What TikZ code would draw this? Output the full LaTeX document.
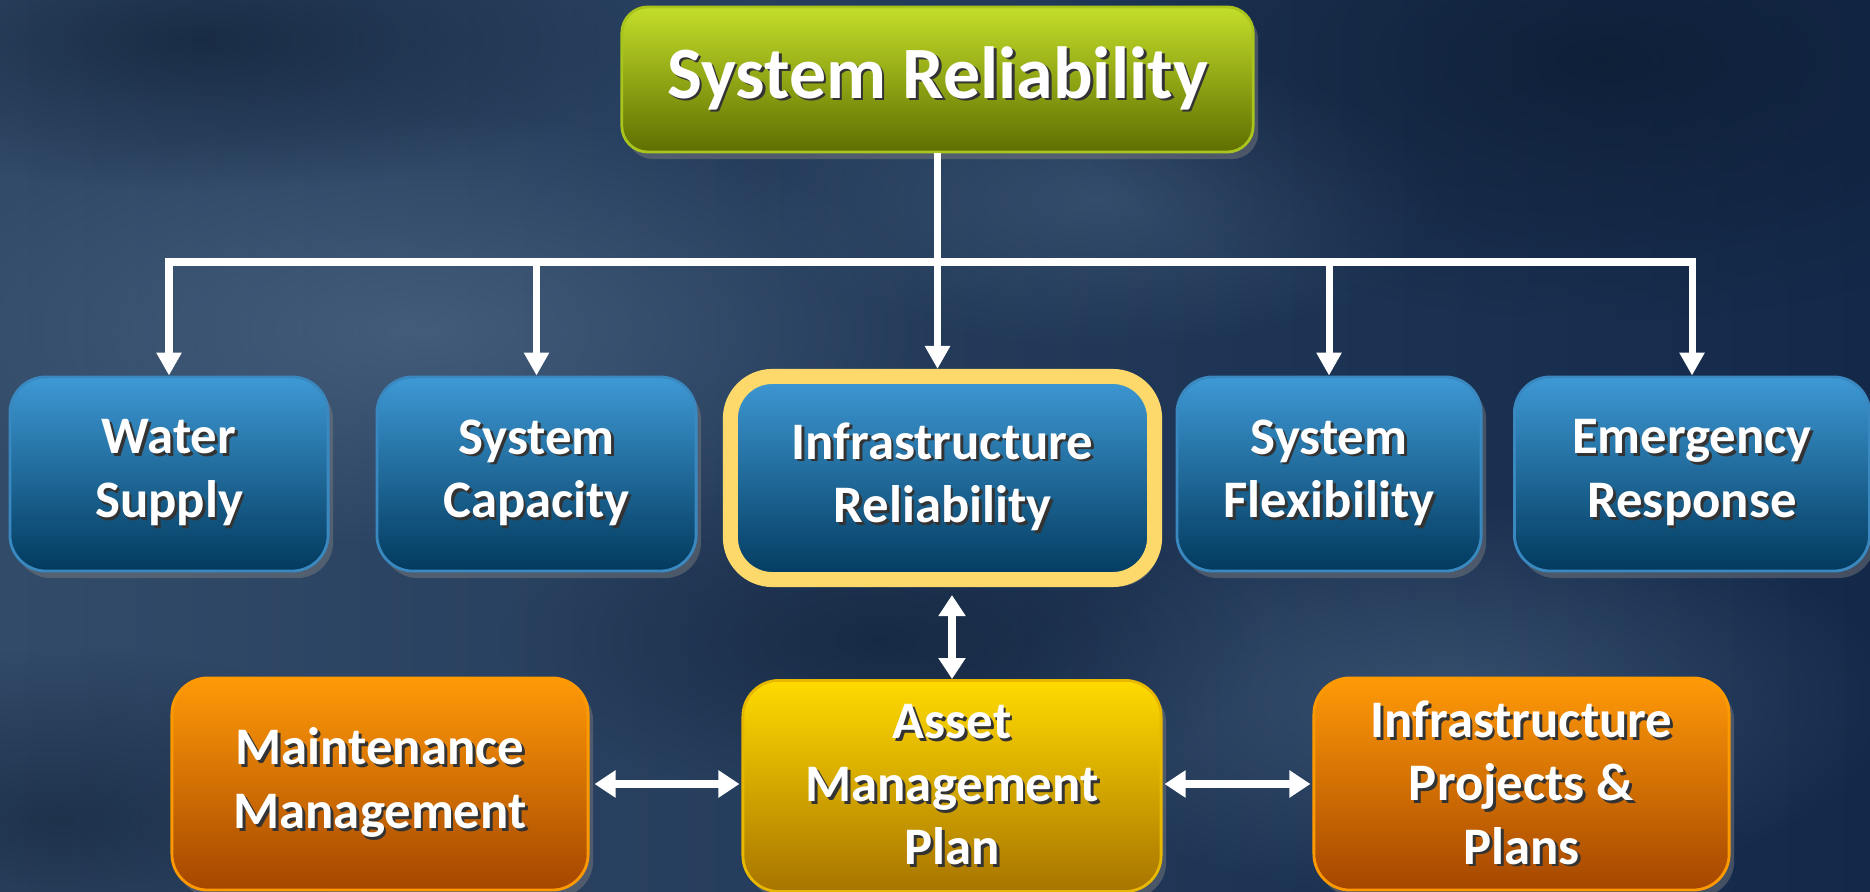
\documentclass[tikz,border=0pt]{standalone}
\usepackage{fontspec}
\setmainfont{Carlito}
\usetikzlibrary{arrows.meta,shadows,fadings}

\definecolor{bgleft}{HTML}{324B69}
\definecolor{bgright}{HTML}{14294A}
\definecolor{bglight}{HTML}{5A7592}
\definecolor{bgdark}{HTML}{0B1A30}
\definecolor{greentop}{HTML}{C4DE2A}
\definecolor{greenbot}{HTML}{5F6E00}
\definecolor{greenline}{HTML}{A9C41C}
\definecolor{bluetop}{HTML}{3E99D5}
\definecolor{bluebot}{HTML}{023A5E}
\definecolor{blueline}{HTML}{3A88C0}
\definecolor{framecol}{HTML}{FDD96C}
\definecolor{goldtop}{HTML}{FFDB00}
\definecolor{goldbot}{HTML}{A87400}
\definecolor{goldline}{HTML}{E8B800}
\definecolor{orangetop}{HTML}{FF9A08}
\definecolor{orangebot}{HTML}{A54600}
\definecolor{orangeline}{HTML}{FF9900}
\definecolor{txtshadow}{HTML}{333333}

\tikzfading[name=softspot, inner color=transparent!0, outer color=transparent!100]

\newcommand{\shtxt}[1]{\leavevmode\rlap{\kern0.8pt\raisebox{-0.8pt}{\color{txtshadow}#1}}#1}

\begin{document}
\begin{tikzpicture}[x=0.01cm, y=-0.01cm]
    % Define styles
    \tikzset{
        box/.style={
            rounded corners=3.6mm,
            inner sep=0pt,
            align=center,
            text=white,
            font=\bfseries\fontsize{15}{18}\selectfont,
            drop shadow={shadow xshift=0.5mm, shadow yshift=-0.7mm, opacity=0.45}
        },
        bluebox/.style={
            box,
            top color=bluetop,
            bottom color=bluebot,
            draw=blueline,
            line width=0.8pt
        },
        orangebox/.style={
            box,
            top color=orangetop,
            bottom color=orangebot,
            draw=orangeline,
            line width=0.8pt
        },
        link/.style={
            white,
            line width=2pt
        },
        arrow/.style={
            link,
            -{Triangle[width=2.4mm, length=2.3mm]}
        },
        dblarrow/.style={
            white,
            line width=2pt,
            {Triangle[width=2.6mm, length=2.1mm]}-{Triangle[width=2.6mm, length=2.1mm]}
        }
    }

    % Background
    \useasboundingbox (0,0) rectangle (1870,892);
    \begin{scope}
        \clip (0,0) rectangle (1870,892);
        \fill[left color=bgleft, right color=bgright] (0,0) rectangle (1870,892);
        \fill[bglight, path fading=softspot, opacity=0.5] (420,330) ellipse (520 and 220);
        \fill[bglight, path fading=softspot, opacity=0.45] (1450,700) ellipse (450 and 200);
        \fill[bglight, path fading=softspot, opacity=0.35] (1100,200) ellipse (350 and 150);
        \fill[bgdark, path fading=softspot, opacity=0.6] (200,40) ellipse (450 and 150);
        \fill[bgdark, path fading=softspot, opacity=0.7] (1600,60) ellipse (550 and 260);
        \fill[bgdark, path fading=softspot, opacity=0.5] (880,640) ellipse (380 and 160);
        \fill[bgdark, path fading=softspot, opacity=0.5] (60,820) ellipse (380 and 170);
    \end{scope}

    % Top
    \node[box, top color=greentop, bottom color=greenbot, draw=greenline, line width=0.8pt,
          rounded corners=2.6mm, font=\bfseries\fontsize{21}{24}\selectfont,
          minimum width=6.31cm, minimum height=1.45cm] (sysrel) at (937.5,79.5) {\shtxt{System Reliability}};

    % Middle row
    \node[bluebox, minimum width=3.18cm, minimum height=1.94cm] (water) at (169,474) {\shtxt{Water}\\\shtxt{Supply}};
    \node[bluebox, minimum width=3.19cm, minimum height=1.94cm] (capacity) at (536.5,474) {\shtxt{System}\\\shtxt{Capacity}};
    \node[bluebox, draw=framecol, line width=0.15cm, rounded corners=4.2mm,
          minimum width=4.24cm, minimum height=2.03cm] (infra) at (942.5,478) {\shtxt{Infrastructure}\\\shtxt{Reliability}};
    \node[bluebox, minimum width=3.04cm, minimum height=1.94cm] (flex) at (1329,474) {\shtxt{System}\\\shtxt{Flexibility}};
    \node[bluebox, minimum width=3.55cm, minimum height=1.94cm] (emerg) at (1692,474) {\shtxt{Emergency}\\\shtxt{Response}};

    % Bottom row
    \node[orangebox, minimum width=4.16cm, minimum height=2.12cm] (maint) at (380,784) {\shtxt{Maintenance}\\\shtxt{Management}};
    \node[box, top color=goldtop, bottom color=goldbot, draw=goldline, line width=0.8pt,
          minimum width=4.18cm, minimum height=2.11cm] (amp) at (952,786) {\shtxt{Asset}\\\shtxt{Management}\\\shtxt{Plan}};
    \node[orangebox, minimum width=4.15cm, minimum height=2.12cm] (projects) at (1521.5,784) {\shtxt{Infrastructure}\\\shtxt{Projects \&}\\\shtxt{Plans}};

    % Tree connectors
    \coordinate (bus) at (937,262);
    \draw[link, line cap=rect] (bus -| water.north) -- (bus -| emerg.north);
    \draw[arrow] (sysrel.south) -- (sysrel.south |- infra.north);
    \foreach \n in {water, capacity, flex, emerg}
        \draw[arrow] (bus -| \n.north) -- (\n.north);

    % Links to the asset plan
    \draw[dblarrow, shorten <=0.8mm] (infra.south -| amp.north) -- (amp.north);
    \draw[dblarrow, shorten <=0.5mm, shorten >=0.2mm] (maint.east) -- (maint.east -| amp.west);
    \draw[dblarrow, shorten <=0.2mm, shorten >=0.2mm] (amp.east |- projects.west) -- (projects.west);

\end{tikzpicture}
\end{document}
